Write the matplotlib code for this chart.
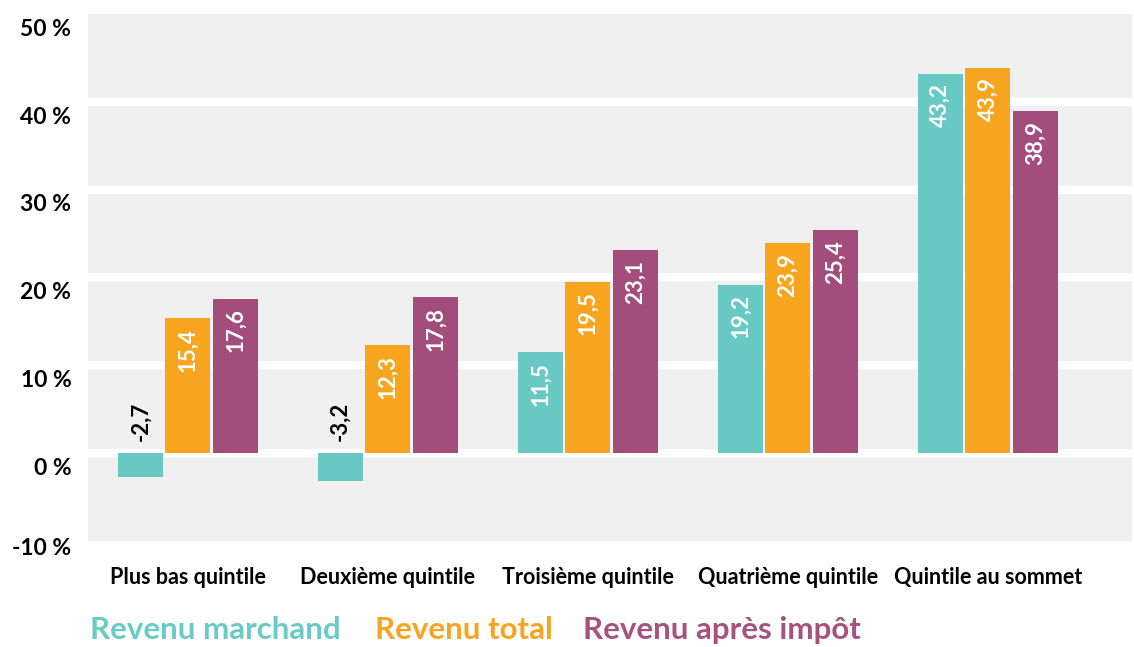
import matplotlib.pyplot as plt
import matplotlib.transforms as mtransforms
import numpy as np

categories = ['Plus bas quintile', 'Deuxième quintile', 'Troisième quintile',
              'Quatrième quintile', 'Quintile au sommet']
marchand = [-2.7, -3.2, 11.5, 19.2, 43.2]
total = [15.4, 12.3, 19.5, 23.9, 43.9]
apres_impot = [17.6, 17.8, 23.1, 25.4, 38.9]
series_names = ['Revenu marchand', 'Revenu total', 'Revenu après impôt']
yticks = [-10, 0, 10, 20, 30, 40, 50]

colors = ['#68c8c3', '#f7a51e', '#a24d7c']
text_colors = ['#6acac5', '#f8a41f', '#a6527f']

plt.rcParams['font.family'] = ['Lato', 'DejaVu Sans']

fig = plt.figure(figsize=(11.34, 6.47), dpi=100)
ax = fig.add_axes([0.0776, 0.1638, 0.9204, 0.8146])
ax.set_facecolor('#f0f0f0')

x = np.arange(len(categories))
step = 0.2375
width = 0.225
for i, vals in enumerate([marchand, total, apres_impot]):
    pos = x + (i - 1) * step
    ax.bar(pos, vals, width, color=colors[i], zorder=3)
    for p, v in zip(pos, vals):
        lab = ('%.1f' % v).replace('.', ',')
        if v >= 0:
            ax.annotate(lab, (p, v), xytext=(0, -7), textcoords='offset points',
                        rotation=90, ha='center', va='top', color='white',
                        fontsize=16, fontweight='bold', zorder=4)
        else:
            ax.annotate(lab, (p, 0), xytext=(0, 9), textcoords='offset points',
                        rotation=90, ha='center', va='bottom', color='black',
                        fontsize=16, fontweight='bold', zorder=4)

for t in yticks[1:-1]:
    ax.axhline(t, color='white', linewidth=6, zorder=2)

ax.set_xlim(-0.5, 4.72)
ax.set_ylim(-9.66, 49.55)
ax.set_yticks(yticks)
ax.set_yticklabels(['%d %%' % t for t in yticks], fontsize=16.5, fontweight='bold')
ax.set_xticks(x)
ax.set_xticklabels(categories, fontsize=15.5, fontweight='bold')
ax.tick_params(length=0)
ax.tick_params(axis='x', pad=19)
ax.tick_params(axis='y', pad=12)
for lab, t in zip(ax.get_yticklabels(), yticks):
    dy = -4 / 72 if t == -10 else -9.5 / 72
    lab.set_transform(lab.get_transform() +
                      mtransforms.ScaledTranslation(0, dy, fig.dpi_scale_trans))
for s in ax.spines.values():
    s.set_visible(False)

legend_x = [90, 375, 583]
for name, c, lx in zip(series_names, text_colors, legend_x):
    fig.text(lx / 1134, 1 - 630 / 647, name, color=c, fontsize=22.5,
             fontweight='bold', va='center', ha='left')

fig.savefig('out.png', dpi=100)
